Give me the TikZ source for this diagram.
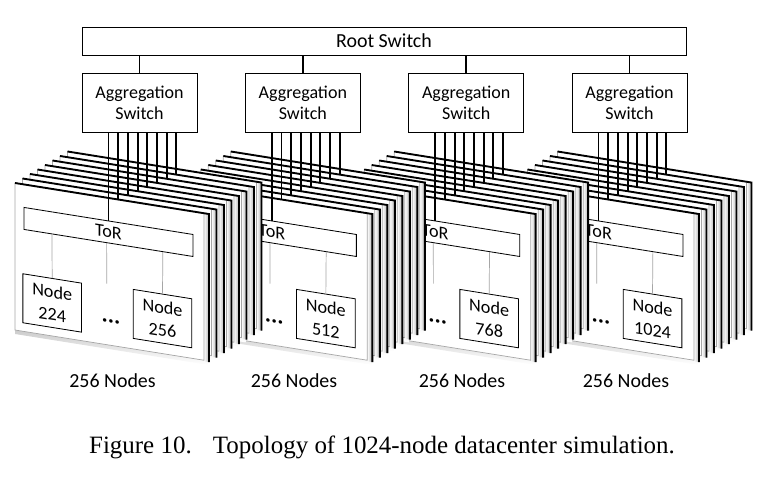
\documentclass[tikz,border=0pt]{standalone}
\usepackage{fontspec}
\setmainfont{Liberation Serif}
\newfontfamily\calibri{Carlito}
\usetikzlibrary{positioning,calc}

\begin{document}
\begin{tikzpicture}[x=0.03cm, y=-0.03cm, node distance=4.9cm, font=\calibri]
        % Define styles
        \tikzstyle{switchbox} = [rectangle, draw, line width=0.8pt, fill=white, align=center, inner sep=0pt]
        \tikzstyle{aggbox} = [switchbox, minimum width=3.45cm, minimum height=1.77cm, font=\calibri\fontsize{15.4}{18}\selectfont]
        \tikzstyle{torbox} = [rectangle, draw, line width=0.7pt, fill=white, inner sep=0pt, transform shape, minimum width=5.07cm, minimum height=0.66cm, font=\calibri\fontsize{15.5}{16}\selectfont]
        \tikzstyle{hostbox} = [rectangle, draw, line width=0.7pt, fill=white, align=center, inner sep=0pt, transform shape, minimum width=1.76cm, minimum height=1.47cm, font=\calibri\fontsize{15.5}{19.5}\selectfont]
        \tikzstyle{dots} = [inner sep=0pt, transform shape, font=\calibri\bfseries\fontsize{20}{20}\selectfont]
        \tikzstyle{uplink} = [line width=1.6pt, black]
        \tikzstyle{link} = [line width=0.6pt, gray!70]
        \tikzstyle{panel} = [fill=white, draw=gray!70, line width=0.6pt]
        \tikzstyle{rim} = [line width=1.6pt, black, line join=miter]

        \useasboundingbox (0,0) rectangle (771,481);

        % Switches
        \node [switchbox, minimum width=18.12cm, minimum height=0.84cm, font=\calibri\fontsize{17}{20}\selectfont] (root) at (384,41) {Root Switch};
        \node [aggbox] (agg1) at (139.5,102.5) {Aggregation\\Switch};
        \node [aggbox, right of=agg1] (agg2) {Aggregation\\Switch};
        \node [aggbox, right of=agg2] (agg3) {Aggregation\\Switch};
        \node [aggbox, right of=agg3] (agg4) {Aggregation\\Switch};

        % Racks, back to front
        \foreach \r/\hostA/\hostB/\lx in {4//1024/626, 3//768/462, 2//512/294, 1/224/256/112.5} {
          \foreach \k in {7,6,...,0} {
            \begin{scope}[shift={(agg\r.center)}, shift={(-124.5+7.5*\k, 80.5-4.5*\k)}, yslant=-0.16]
              \shade [top color=gray!40, bottom color=white] (0,147) rectangle (193,151);
              \shade [left color=white, right color=gray!60] (189,0) rectangle (194,148);
              \draw [panel] (0,0) rectangle (189,147);
              \draw [rim] (0,0) -- (194,0) -- (194,148);
              \coordinate (top) at (93.5+2.2*\k, 12);
              \ifnum\k=0
                \node [torbox] (tor) at (93.5,34) {\raisebox{-2pt}{ToR}};
                \node [hostbox] (hb) at (147.5,112) {Node\\\hostB};
                \ifx\hostA\empty\else
                  \node [hostbox] (ha) at (37.2,114) {Node\\\hostA};
                \fi
                \coordinate (gap) at (91.7,86);
                \node [dots] (etc) at (96,123) {...};
              \fi
            \end{scope}
            \ifnum\k>0
              \draw [uplink] (top |- agg\r.south) -- (top);
            \else
              \draw [uplink] (tor.north |- agg\r.south) -- (tor.north);
              \draw [link] ($(tor.south west)!0.489!(tor.south east)$) -- (gap);
              \draw [link] ($(tor.south west)!0.82!(tor.south east)$) -- (hb.north);
              \ifx\hostA\empty\else
                \draw [link] ($(tor.south west)!0.167!(tor.south east)$) -- (ha.north);
              \fi
            \fi
          }
          \node [font=\calibri\fontsize{17}{20}\selectfont] (size\r) at (\lx,381) {256 Nodes};
        }

        % Root links
        \foreach \r in {1,...,4}
          \draw [uplink] (root.south -| agg\r.north) -- (agg\r.north);

        % Caption
        \node [font=\rmfamily\fontsize{21.3}{24}\selectfont] (caption) at (382,447) {Figure 10.\hspace{0.85em}Topology of 1024-node datacenter simulation.};
\end{tikzpicture}
\end{document}
